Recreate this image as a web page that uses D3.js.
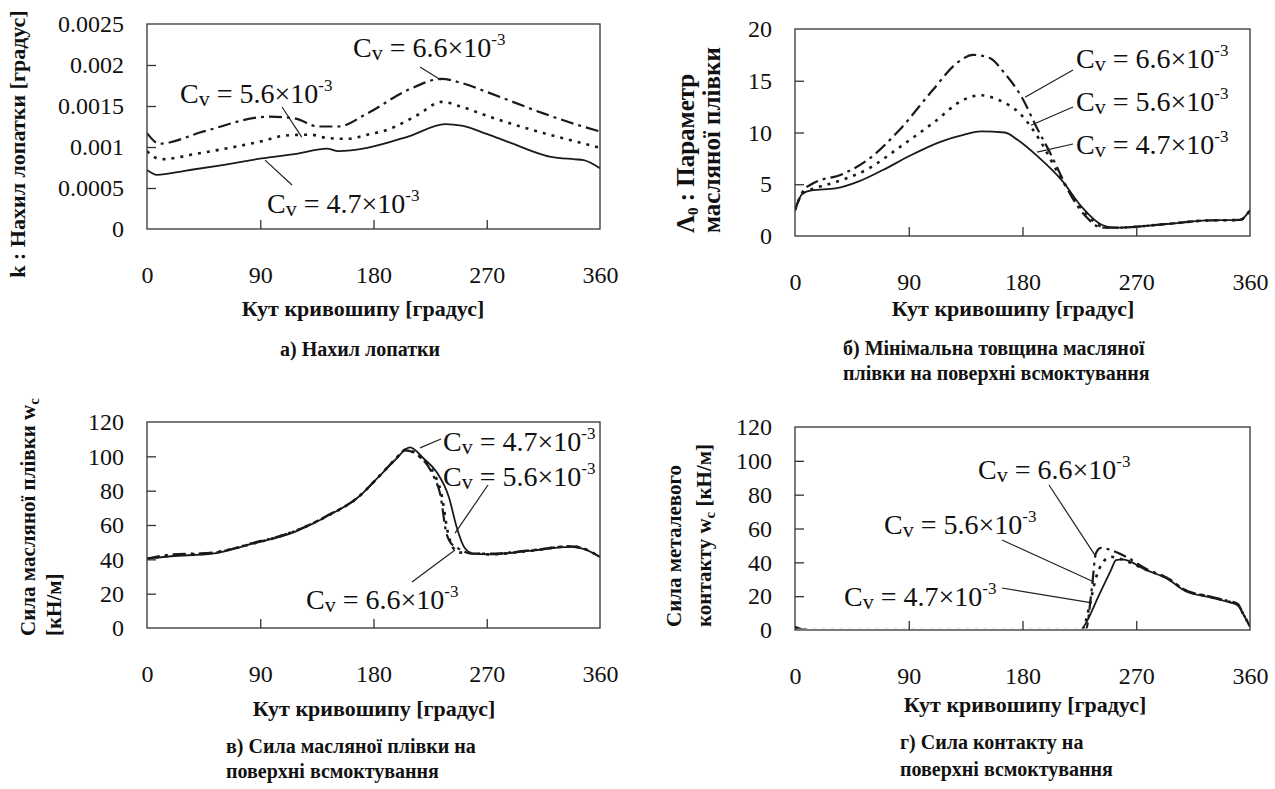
<!DOCTYPE html>
<html>
<head>
<meta charset="utf-8">
<script src="https://cdnjs.cloudflare.com/ajax/libs/d3/7.8.5/d3.min.js"></script>
<style>
  body { margin: 0; background: #fff; }
  svg { display: block; }
  text { font-family: "Liberation Serif", Tinos, "Times New Roman", Times, serif; }
  .tick text { fill: #111; }
  .title { font-weight: bold; fill: #111; }
</style>
</head>
<body>
<svg id="chart" width="1275" height="789" font-family="Liberation Serif, serif"></svg>
<script>
// ---- data (crank angle [deg], value) ----
const xTicks = [0, 90, 180, 270, 360];
const cvValues = ['4.7', '5.6', '6.6'];

// а) blade tilt k
const tiltA47 = [[0,0.00072],[8,0.00066],[30,0.00071],[60,0.00078],[91,0.00086],[120,0.00092],[143,0.00098],[152,0.00095],[175,0.00099],[208,0.00113],[237,0.00128],[250,0.00126],[270,0.00116],[289,0.00105],[321,0.00088],[340,0.00085],[347,0.00084],[360,0.00074]];
const tiltA56 = [[0,0.00095],[11,0.00085],[40,0.00092],[91,0.00107],[110,0.00114],[130,0.00115],[143,0.00111],[159,0.0011],[175,0.00115],[191,0.00121],[215,0.00139],[234,0.00155],[250,0.00149],[272,0.00137],[315,0.00117],[340,0.00107],[360,0.00099]];
const tiltA66 = [[0,0.00117],[10,0.00104],[45,0.00119],[97,0.00137],[117,0.00135],[136,0.00125],[152,0.00125],[175,0.00141],[208,0.0017],[234,0.00183],[250,0.00178],[272,0.00166],[315,0.00141],[340,0.00128],[360,0.00119]];
const yTicksA = [0, 0.0005, 0.001, 0.0015, 0.002, 0.0025];
const yLabelsA = ['0', '0.0005', '0.001', '0.0015', '0.002', '0.0025'];

// б) oil film parameter
const filmB47 = [[0,2.5],[6,4.1],[13,4.4],[32,4.6],[51,5.3],[70,6.4],[90,7.7],[115,9.1],[134,9.8],[147,10.1],[166,10.0],[176,9.3],[192,7.7],[211,5.4],[227,2.8],[243,1.06],[253,0.8],[294,1.16],[326,1.5],[352,1.55],[360,2.5]];
const filmB56 = [[0,2.5],[6,4.1],[13,4.5],[32,5.2],[58,6.5],[83,8.6],[109,10.9],[134,13.2],[147,13.6],[160,13.2],[179,11.7],[195,9.0],[208,6.1],[218,4.1],[230,2.2],[243,0.9],[253,0.8],[294,1.16],[326,1.5],[352,1.55],[360,2.5]];
const filmB66 = [[0,2.5],[6,4.3],[13,5.0],[38,6.0],[58,7.4],[83,10.3],[109,14.1],[128,16.7],[141,17.5],[154,17.2],[166,15.7],[179,13.5],[192,10.3],[202,8.0],[211,5.7],[218,4.0],[230,1.9],[243,0.8],[253,0.8],[294,1.16],[326,1.5],[352,1.55],[360,2.5]];
const yTicksB = [0, 5, 10, 15, 20];

// в) oil film force
const forceC47 = [[0,40.4],[19,41.8],[52,43.3],[84,49.1],[117,55.9],[142,64.7],[168,76.3],[184,88],[197,97.7],[209,105.2],[220,98.6],[230,91],[240,76],[246,59],[252,47.2],[259,43.3],[272,42.9],[304,44.9],[337,47.2],[346,46.2],[360,41.4]];
const forceC56 = [[0,40.4],[19,42.2],[52,43.8],[84,49.1],[117,56.3],[142,64.7],[168,76.3],[184,88],[197,98],[206,104],[218,99],[228,90],[234,78],[239,56],[243,47],[248,44],[256,43.8],[272,42.9],[304,44.9],[337,47.6],[346,46.5],[360,41.4]];
const forceC66 = [[0,40.4],[19,42.8],[52,43.8],[84,49.5],[117,56.3],[142,65],[168,76.3],[184,88],[197,98],[205,103.5],[218,99],[228,88],[233,78],[238,55],[241,50],[247,46.5],[252,44.5],[258,43.3],[272,43.3],[304,45.2],[337,47.6],[346,46.5],[360,41.4]];
const yTicksC = [0, 20, 40, 60, 80, 100, 120];

// г) contact force
const contactD47 = [[0,1.6],[6,0.4],[13,0],[226,0],[230,3.9],[240,19.7],[250,35.4],[254,41.3],[259,41.7],[278,35.4],[294,30.5],[310,22.6],[326,19.7],[342,16.7],[350,14.8],[355,8.9],[360,2]];
const contactD56 = [[0,1.6],[6,0.4],[13,0],[227,0],[234,17.7],[238,30.5],[243,39.3],[250,43.3],[256,42.3],[266,39.5],[278,35.6],[294,30.8],[310,23],[326,20],[342,17],[350,15.2],[355,9],[360,2]];
const contactD66 = [[0,1.6],[6,0.4],[13,0],[230,0],[235,25.6],[238,45.2],[242,48.6],[250,47.2],[262,43.3],[278,36],[294,31],[310,23.2],[326,20.2],[342,17.3],[350,15.5],[355,9.2],[360,2]];
const yTicksD = [0, 20, 40, 60, 80, 100, 120];

// line style per Cv (4.7 solid, 5.6 dotted, 6.6 dash-dot)
const dashes = [null, '3,6', '13,5,3,5'];
const widths = [1.8, 2.6, 2.2];

// ---- layout ----
const panels = [
  { left: 147, right: 600, top: 24, bottom: 229, yMax: 0.0025, yTicks: yTicksA, yLabels: yLabelsA,
    series: [tiltA47, tiltA56, tiltA66],
    xTitle: { x: 363, y: 316 },
    yTitle: { x: 25, y: 144, anchor: 'middle', size: 22, lines: [['k : Нахил лопатки [градус]']] },
    caption: { x: 360, anchor: 'middle', lines: [['а) Нахил лопатки', 356]] },
    notes: [
      { s: 2, tx: 353, ty: 57, lx: 420, ly: 67, tip: [233.6, 0.001817] },
      { s: 1, tx: 180, ty: 103, lx: 282, ly: 107, tip: [123, 0.00112] },
      { s: 0, tx: 267, ty: 213, lx: 292, ly: 185, tip: [93.8, 0.00084] }
    ] },
  { left: 795, right: 1250, top: 29, bottom: 236, yMax: 20, yTicks: yTicksB,
    series: [filmB47, filmB56, filmB66],
    xTitle: { x: 1013, y: 316 },
    yTitle: { x: 694, y: 233, anchor: 'start', size: 25, gap: 26, lines: [['Λ', '0', ' : Параметр'], ['масляної плівки']] },
    caption: { x: 843, anchor: 'start', lines: [['б) Мінімальна товщина масляної', 355], ['плівки на поверхні всмоктування', 380]] },
    notes: [
      { s: 2, tx: 1076, ty: 68, lx: 1073, ly: 70, tip: [182, 13.4] },
      { s: 1, tx: 1076, ty: 111, lx: 1073, ly: 107, tip: [186.7, 10.7] },
      { s: 0, tx: 1076, ty: 154, lx: 1073, ly: 144, tip: [191.5, 8.1] }
    ] },
  { left: 147, right: 600, top: 422, bottom: 628, yMax: 120, yTicks: yTicksC,
    series: [forceC47, forceC56, forceC66],
    xTitle: { x: 374, y: 716 },
    yTitle: { x: 35, y: 636, anchor: 'start', size: 21, gap: 26, lines: [['Сила масляної плівки w', 'c'], ['[кН/м]']] },
    caption: { x: 226, anchor: 'start', lines: [['в) Сила масляної плівки на', 753], ['поверхні всмоктування', 778]] },
    notes: [
      { s: 0, tx: 443, ty: 451, lx: 441, ly: 439, tip: [217, 104.9] },
      { s: 1, tx: 443, ty: 486, lx: 488, ly: 485, tip: [244.8, 55.3] },
      { s: 2, tx: 306, ty: 609, lx: 412, ly: 582, tip: [244.8, 45.4] }
    ] },
  { left: 795, right: 1250, top: 427, bottom: 630, yMax: 120, yTicks: yTicksD,
    series: [contactD47, contactD56, contactD66],
    xTitle: { x: 1025, y: 712 },
    yTitle: { x: 681, y: 627, anchor: 'start', size: 21, gap: 30, lines: [['Сила металевого'], ['контакту w', 'c', ' [кН/м]']] },
    caption: { x: 900, anchor: 'start', lines: [['г) Сила контакту на', 749], ['поверхні всмоктування', 776]] },
    notes: [
      { s: 2, tx: 978, ty: 479, lx: 1049, ly: 485, tip: [238.2, 43.2] },
      { s: 1, tx: 884, ty: 534, lx: 1002, ly: 540, tip: [236.6, 28.4] },
      { s: 0, tx: 844, ty: 606, lx: 1002, ly: 588, tip: [235, 16] }
    ] }
];

const svg = d3.select('#chart');

// text with optional subscript pieces: [main, sub, main, ...]
function richText(t, parts, subSize) {
  parts.forEach((p, i) => {
    const sp = t.append('tspan').text(p);
    if (i % 2 === 1) sp.attr('font-size', subSize).attr('dy', 4);
    else if (i > 0) sp.attr('dy', -4);
  });
}

function cvLabel(g, x, y, value) {
  const t = g.append('text').attr('x', x).attr('y', y)
    .attr('font-size', 28).attr('fill', '#111');
  t.append('tspan').text('C');
  t.append('tspan').attr('font-size', 22).attr('dy', 3).text('v');
  t.append('tspan').attr('dy', -3).text(' = ' + value + '×10');
  t.append('tspan').attr('font-size', 17).attr('dy', -12).text('-3');
}

panels.forEach((p, pi) => {
  const x = d3.scaleLinear().domain([0, 360]).range([p.left, p.right]);
  const y = d3.scaleLinear().domain([0, p.yMax]).range([p.bottom, p.top]);
  const g = svg.append('g');

  // clip lines to the plot box so zero runs hide under the frame
  g.append('clipPath').attr('id', 'clip' + pi)
    .append('rect')
    .attr('x', p.left).attr('y', p.top - 2)
    .attr('width', p.right - p.left).attr('height', p.bottom - p.top + 0.5);

  // Series
  const line = d3.line().x(d => x(d[0])).y(d => y(d[1])).curve(d3.curveMonotoneX);
  p.series.forEach((s, i) => {
    g.append('path')
      .datum(s)
      .attr('clip-path', `url(#clip${pi})`)
      .attr('d', line)
      .attr('fill', 'none')
      .attr('stroke', '#1a1a1a')
      .attr('stroke-width', widths[i])
      .attr('stroke-dasharray', dashes[i]);
  });

  // Frame
  g.append('rect')
    .attr('x', p.left).attr('y', p.top)
    .attr('width', p.right - p.left).attr('height', p.bottom - p.top)
    .attr('fill', 'none').attr('stroke', '#333').attr('stroke-width', 1.3);

  // Axes, ticks pointing inward
  const xAxis = d3.axisBottom(x).tickValues(xTicks).tickSize(-9).tickSizeOuter(0).tickPadding(37);
  const yAxis = d3.axisLeft(y).tickValues(p.yTicks).tickSize(-9).tickSizeOuter(0).tickPadding(23)
    .tickFormat((d, i) => p.yLabels ? p.yLabels[i] : d);

  const gx = g.append('g').attr('transform', `translate(0,${p.bottom})`).call(xAxis);
  const gy = g.append('g').attr('transform', `translate(${p.left},0)`).call(yAxis);
  [gx, gy].forEach(a => {
    a.select('.domain').remove();
    a.attr('font-family', null).attr('font-size', 24);
    a.selectAll('line').attr('stroke', '#333').attr('stroke-width', 1.3);
    a.selectAll('.tick').filter(d => d === 0 || d === 360 || d === p.yMax).select('line').remove();
  });

  // Annotations
  p.notes.forEach(n => {
    g.append('line')
      .attr('x1', n.lx).attr('y1', n.ly)
      .attr('x2', x(n.tip[0])).attr('y2', y(n.tip[1]))
      .attr('stroke', '#222').attr('stroke-width', 1.2);
    cvLabel(g, n.tx, n.ty, cvValues[n.s]);
  });

  // X title
  g.append('text').attr('class', 'title')
    .attr('x', p.xTitle.x).attr('y', p.xTitle.y)
    .attr('text-anchor', 'middle').attr('font-size', 22)
    .text('Кут кривошипу [градус]');

  // Y title (rotated)
  p.yTitle.lines.forEach((ln, i) => {
    const t = g.append('text').attr('class', 'title')
      .attr('font-size', p.yTitle.size)
      .attr('text-anchor', p.yTitle.anchor)
      .attr('transform', `translate(${p.yTitle.x + i * (p.yTitle.gap || 0)},${p.yTitle.y}) rotate(-90)`);
    richText(t, ln, 15);
  });

  // Caption
  p.caption.lines.forEach(ln => {
    g.append('text').attr('class', 'title')
      .attr('x', p.caption.x).attr('y', ln[1])
      .attr('text-anchor', p.caption.anchor).attr('font-size', 20)
      .text(ln[0]);
  });
});
</script>
</body>
</html>
